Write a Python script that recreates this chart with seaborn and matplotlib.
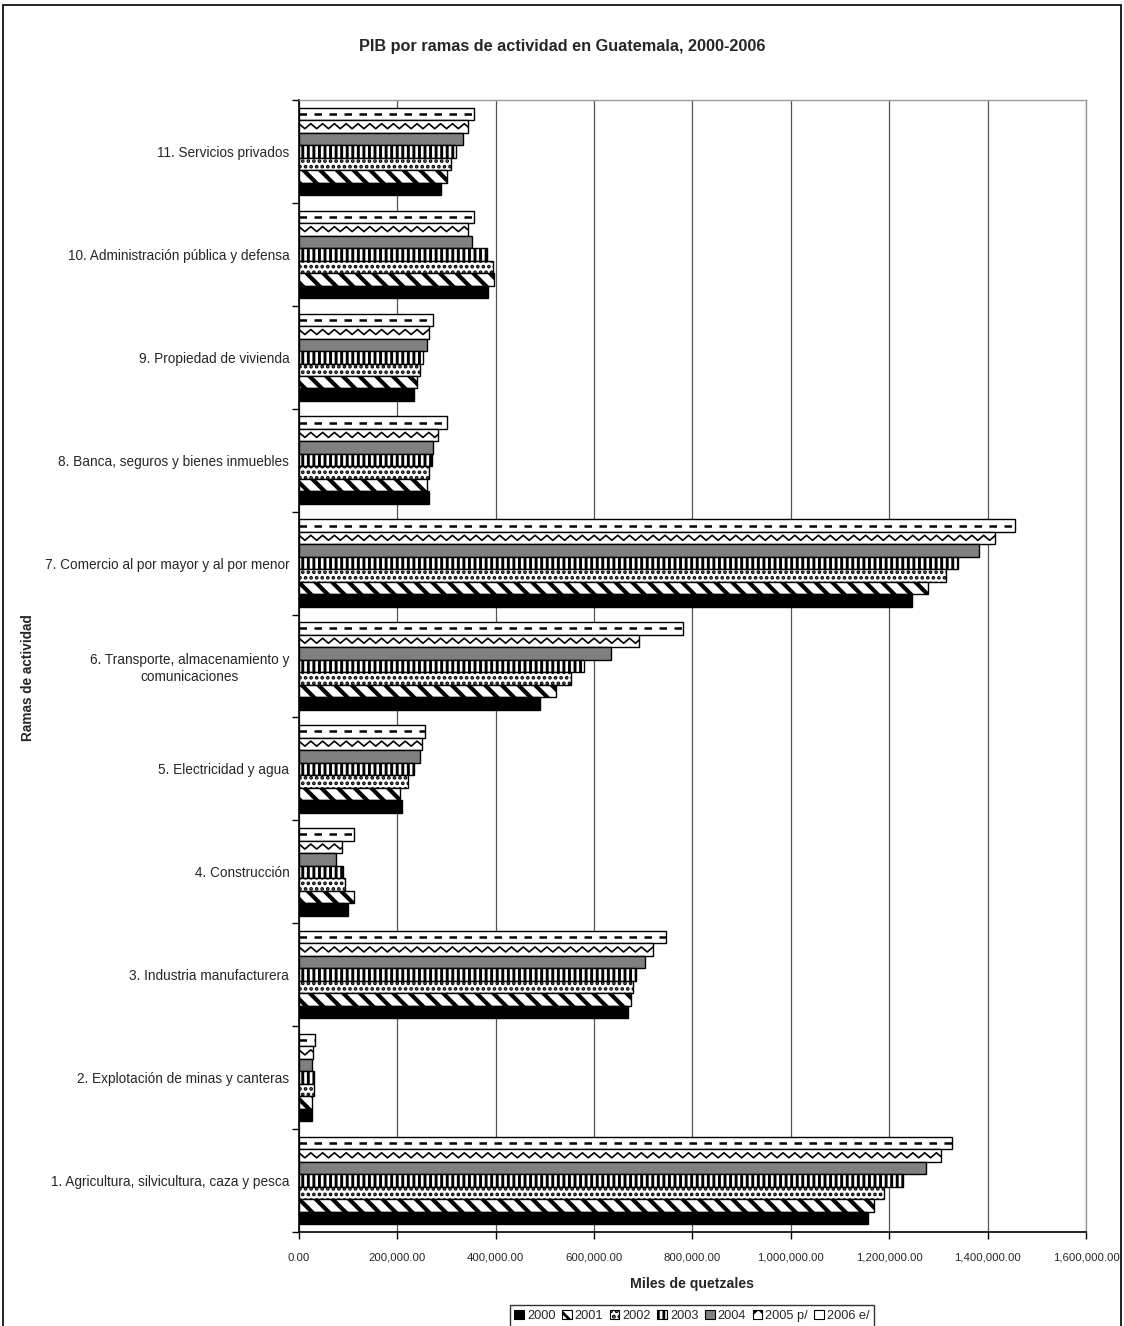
import numpy as np
import pandas as pd
import seaborn as sns
import matplotlib.pyplot as plt
from matplotlib.patches import Patch, Rectangle

sns.set_theme(style='white')
plt.rcParams['font.family'] = ['Liberation Sans', 'DejaVu Sans']
plt.rcParams['hatch.linewidth'] = 2.0

# ramas de actividad, de abajo (1) hacia arriba (11)
ramas = ['1. Agricultura, silvicultura, caza y pesca',
         '2. Explotación de minas y canteras',
         '3. Industria manufacturera',
         '4. Construcción',
         '5. Electricidad y agua',
         '6. Transporte, almacenamiento y\ncomunicaciones',
         '7. Comercio al por mayor y al por menor',
         '8. Banca, seguros y bienes inmuebles',
         '9. Propiedad de vivienda',
         '10. Administración pública y defensa',
         '11. Servicios privados']
anios = ['2000', '2001', '2002', '2003', '2004', '2005 p/', '2006 e/']

# miles de quetzales
v2000 = [1156000, 27000, 668000, 99000, 210000, 490000, 1246000, 265000, 234000, 385000, 288000]
v2001 = [1169000, 26000, 674000, 111000, 205000, 522000, 1279000, 261000, 240000, 397000, 300000]
v2002 = [1190000, 31000, 680000, 93000, 222000, 552000, 1315000, 265000, 247000, 395000, 310000]
v2003 = [1227000, 31000, 686000, 90000, 234000, 579000, 1339000, 270000, 253000, 383000, 320000]
v2004 = [1275000, 27000, 703000, 75000, 246000, 634000, 1382000, 273000, 260000, 351000, 334000]
v2005 = [1306000, 28000, 720000, 87000, 251000, 692000, 1414000, 282000, 265000, 344000, 344000]
v2006 = [1328000, 32000, 747000, 111000, 256000, 780000, 1456000, 300000, 272000, 356000, 356000]
series = [v2000, v2001, v2002, v2003, v2004, v2005, v2006]

xticks = [0, 200000, 400000, 600000, 800000, 1000000, 1200000, 1400000, 1600000]

df = pd.DataFrame([(r, a, s[i]) for a, s in zip(anios, series) for i, r in enumerate(ramas)],
                  columns=['rama', 'anio', 'valor'])

fill = {'2000': 'black', '2001': 'white', '2002': 'white', '2003': 'white',
        '2004': '#808080', '2005 p/': 'white', '2006 e/': 'white'}
hatch = {'2000': None, '2001': '\\\\', '2002': '...', '2003': '|||',
         '2004': None, '2005 p/': None, '2006 e/': None}
hatch_lw = {'2001': 3.0, '2002': 1.8, '2003': 2.1}

fig = plt.figure(figsize=(11.24, 13.26), dpi=100)
ax = fig.add_axes([0.2660, 0.0709, 0.7002, 0.8537])

orden = ramas[::-1]
hue_orden = anios[::-1]
sns.barplot(data=df, y='rama', x='valor', hue='anio', order=orden, hue_order=hue_orden,
            palette=fill, orient='h', width=0.85, gap=0, saturation=1,
            edgecolor='black', linewidth=1.0, legend=False, ax=ax)

for cont, a in zip(ax.containers, hue_orden):
    for p in cont.patches:
        p.set_facecolor(fill[a])
        p.set_edgecolor('black')
        if hatch[a]:
            p.set_hatch(hatch[a])
            if hasattr(p, 'set_hatch_linewidth'):
                p.set_hatch_linewidth(hatch_lw[a])
        x0, y0, w, h = p.get_x(), p.get_y(), p.get_width(), p.get_height()
        if a == '2006 e/':
            ax.plot([x0, x0 + w], [y0 + h / 2, y0 + h / 2], color='black', lw=1.8,
                    dashes=(3, 3), solid_capstyle='butt', dash_capstyle='butt', zorder=3,
                    clip_path=p)
        if a == '2005 p/':
            step = 12000
            zx = np.arange(x0, x0 + w + step, step)
            zy = np.where(np.arange(len(zx)) % 2 == 0, y0 + h * 0.28, y0 + h * 0.68)
            ln, = ax.plot(zx, zy, color='black', lw=1.2, zorder=3)
            ln.set_clip_path(p)

ax.set_xlim(0, 1600000)
ax.set_ylim(len(ramas) - 0.5, -0.5)
ax.set_xticks(xticks)
ax.set_xticklabels([f'{t:,.2f}' for t in xticks], fontsize=8.2)
ax.set_yticks(np.arange(len(orden)))
ax.set_yticklabels(orden, fontsize=9.8, multialignment='center')
ax.set_yticks(np.arange(len(orden) + 1) - 0.5, minor=True)
ax.tick_params(axis='y', which='major', length=0, pad=7)
ax.tick_params(axis='y', which='minor', length=5, width=1, color='black', direction='out', left=True)
ax.tick_params(axis='x', length=5, width=1, color='black', direction='out', bottom=True, pad=10)
ax.xaxis.grid(True, color='#555555', lw=0.9)
ax.set_axisbelow(True)

for s in ['left', 'bottom']:
    ax.spines[s].set_color('black')
    ax.spines[s].set_linewidth(1.2)
for s in ['top', 'right']:
    ax.spines[s].set_color('#999999')
    ax.spines[s].set_linewidth(1.0)

ax.set_xlabel('Miles de quetzales', fontsize=10.2, fontweight='bold', labelpad=10)
ax.set_ylabel('Ramas de actividad', fontsize=9.8, fontweight='bold')
ax.yaxis.set_label_coords((35 - 299) / 787, 0.49)

fig.text(0.5, 1 - 46 / 1326, 'PIB por ramas de actividad en Guatemala, 2000-2006',
         ha='center', va='center', fontsize=11.7, fontweight='bold')

handles = []
for a in anios:
    h = hatch[a]
    if a == '2005 p/':
        h = 'xx'
    handles.append(Patch(facecolor=fill[a], edgecolor='black', hatch=h, lw=0.8))
fig.legend(handles, anios, loc='center', bbox_to_anchor=(692 / 1124, 1 - 1316 / 1326),
           ncol=7, frameon=True, fancybox=False, edgecolor='black', fontsize=9.2,
           handlelength=0.75, handleheight=0.75, handletextpad=0.25, columnspacing=0.5,
           borderpad=0.35, borderaxespad=0)

fig.patches.append(Rectangle((3 / 1124, -0.02), 1118 / 1124, 1.02 - 5 / 1326,
                             transform=fig.transFigure, fill=False, ec='black', lw=1.2))

fig.savefig('out.png', dpi=100, facecolor='white')
